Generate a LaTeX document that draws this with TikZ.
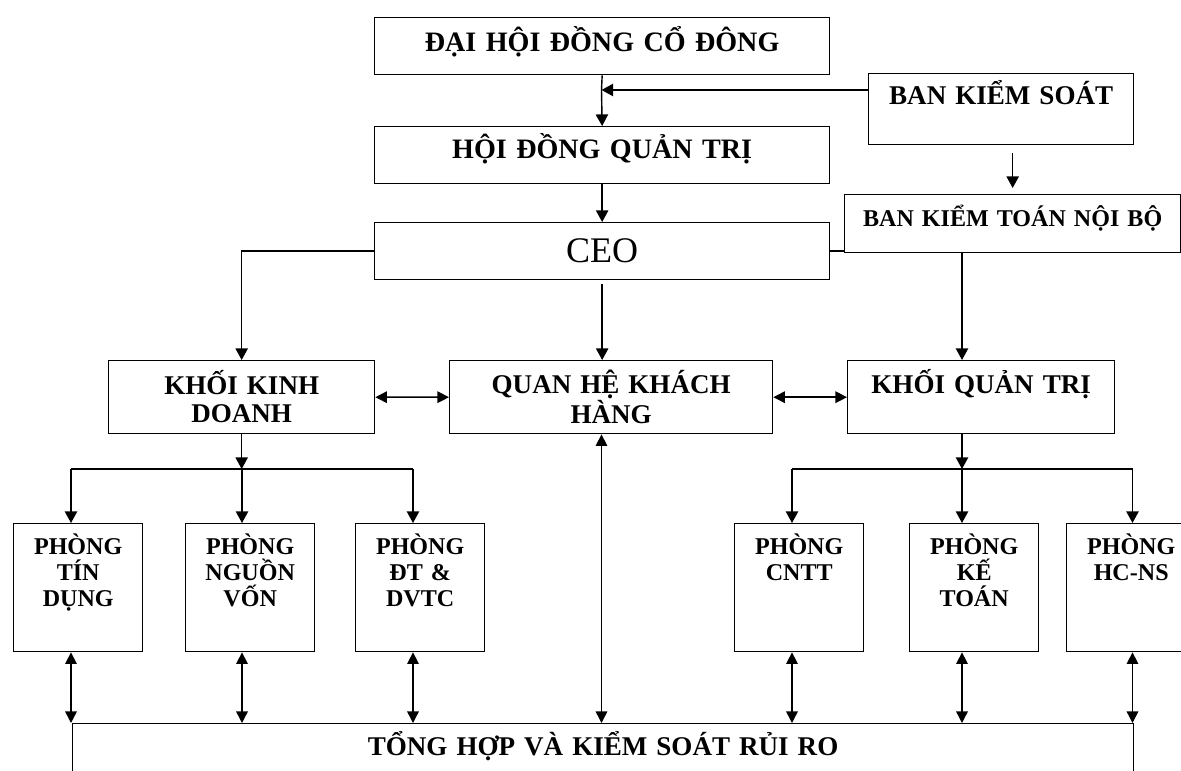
\documentclass[tikz,border=0pt]{standalone}
\usepackage{fontspec}
\setmainfont{Liberation Serif}
\usetikzlibrary{arrows.meta}

\begin{document}
\begin{tikzpicture}[x=0.02cm,y=-0.02cm]

	\tikzstyle unit box=[draw, line width=0.8pt, anchor=north west, inner sep=0pt, align=center];
	\tikzstyle top text=[font=\fontsize{16}{18}\selectfont\bfseries];
	\tikzstyle mid text=[font=\fontsize{15.4}{15.9}\selectfont\bfseries];
	\tikzstyle small text=[font=\fontsize{13.7}{14.8}\selectfont\bfseries];
	\tikzstyle dept box=[unit box, small text, text width=2.58cm, text height=0.62cm, text depth=1.94cm];
	\tikzstyle link lines=[line width=0.8pt, -{Triangle[length=6.6pt,width=7pt]}];
	\tikzstyle both lines=[line width=0.8pt, {Triangle[length=6.6pt,width=6.6pt]}-{Triangle[length=6.6pt,width=6.6pt]}];

	\useasboundingbox (0,0) rectangle (1181,771);

	% top of the chart
	\node[unit box, top text, text width=9.1cm, text height=0.68cm, text depth=0.46cm] (dhdcd) at (374,17) {ĐẠI HỘI ĐỒNG CỔ ĐÔNG};
	\node[unit box, top text, text width=9.1cm, text height=0.64cm, text depth=0.5cm] (hdqt) at (374,126) {HỘI ĐỒNG QUẢN TRỊ};
	\node[unit box, font=\fontsize{20.5}{22}\selectfont, text width=9.1cm, text height=0.8cm, text depth=0.34cm] (ceo) at (374,222) {CEO};
	\node[unit box, mid text, text width=5.3cm, text height=0.62cm, text depth=0.8cm] (bks) at (868,73) {BAN KIỂM SOÁT};
	\node[unit box, small text, text width=6.72cm, text height=0.64cm, text depth=0.52cm] (bktnb) at (844,194) {BAN KIỂM TOÁN NỘI BỘ};

	% the three blocks
	\node[unit box, mid text, text width=5.32cm, text height=0.68cm, text depth=0.78cm] (kkd) at (108,360) {KHỐI KINH\\DOANH};
	\node[unit box, mid text, text width=6.46cm, text height=0.66cm, text depth=0.8cm] (qhkh) at (449,360) {QUAN HỆ KHÁCH\\HÀNG};
	\node[unit box, mid text, text width=5.34cm, text height=0.66cm, text depth=0.8cm] (kqt) at (847,360) {KHỐI QUẢN TRỊ};

	% departments
	\node[dept box] (pt) at (13,523) {PHÒNG\\TÍN\\DỤNG};
	\node[dept box] (pnv) at (185,523) {PHÒNG\\NGUỒN\\VỐN};
	\node[dept box] (pdt) at (355,523) {PHÒNG\\ĐT \&\\DVTC};
	\node[dept box] (cntt) at (734,523) {PHÒNG\\CNTT};
	\node[dept box] (kt) at (909,523) {PHÒNG\\KẾ\\TOÁN};
	\node[dept box] (hcns) at (1066,523) {PHÒNG\\HC-NS};

	\node[unit box, mid text, text width=21.22cm, text height=0.64cm, text depth=1.2cm] (th) at (72,723) {TỔNG HỢP VÀ KIỂM SOÁT RỦI RO};

	\coordinate (m) at (601.5,90);
	\coordinate (d1) at (71,469);
	\coordinate (lb) at (242,469);
	\coordinate (d3) at (413,469);
	\coordinate (d4) at (792,469);
	\coordinate (rb) at (962,469);
	\coordinate (d6) at (1132.5,469);

	\draw[line width=0.8pt] (dhdcd.south) -- (m);
	\draw[link lines] (m) -- (hdqt.north);
	\draw[link lines] (bks.west |- m) -- (m);
	\draw[link lines] (hdqt.south) -- (ceo.north);
	\draw[link lines, shorten <=0.16cm, shorten >=0.12cm] (bks.south -| bktnb.north) -- (bktnb.north);

	\draw[line width=0.8pt] (ceo.east) -- (ceo.east -| bktnb.west);
	\draw[link lines] (ceo.west) -| (kkd.north);
	\draw[link lines, shorten <=0.08cm] (ceo.south) -- (ceo.south |- qhkh.north);
	\draw[link lines] (bktnb.south -| rb) -- (kqt.north -| rb);

	\draw[both lines] (kkd.east) -- (qhkh.west);
	\draw[both lines] (qhkh.east) -- (kqt.west);

	\draw[link lines] (kkd.south) -- (kkd.south |- lb);
	\draw[link lines] (kqt.south -| rb) -- (rb);
	\draw[line width=0.8pt] (d1) -- (d3);
	\draw[line width=0.8pt] (d4) -- (d6);

	\foreach \d/\b in {d1/pt, lb/pnv, d3/pdt, d4/cntt, rb/kt, d6/hcns}
	{
		\draw[link lines] (\d) -- (\d |- \b.north);
		\draw[both lines] (\d |- \b.south) -- (\d |- th.north);
	}
	\draw[both lines] (qhkh.south -| m) -- (th.north -| m);

\end{tikzpicture}
\end{document}
